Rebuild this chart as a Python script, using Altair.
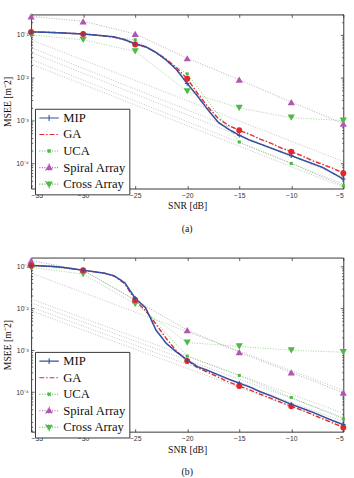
import altair as alt
import pandas as pd

NAMES = ["MIP", "GA", "UCA", "Spiral Array", "Cross Array"]
SNR_FINE = [-35, -34, -33, -32, -31, -30, -29, -28, -27, -26, -25, -24, -23, -22, -21,
            -20, -19, -18, -17, -16, -15, -14, -13, -12, -11, -10, -9, -8, -7, -6, -5]
SNR_5 = [-35, -30, -25, -20, -15, -10, -5]
SNR_CRB = [-35, -5]
Y_MAJOR = [1e-4, 1e-3, 1e-2, 1e-1]
Y_MINOR = [1.2e-5, 1.5e-5, 2e-5, 3e-5, 4e-5, 5e-5, 6e-5, 7e-5, 8e-5, 9e-5,
           2e-4, 3e-4, 4e-4, 5e-4, 6e-4, 7e-4, 8e-4, 9e-4,
           2e-3, 3e-3, 4e-3, 5e-3, 6e-3, 7e-3, 8e-3, 9e-3,
           2e-2, 3e-2, 4e-2, 5e-2, 6e-2, 7e-2, 8e-2, 9e-2, 0.2, 0.3]

# ---- panel (a) ----
A_MIP = [0.117, 0.116, 0.114, 0.111, 0.108, 0.105, 0.100, 0.0949, 0.0901, 0.0770,
         0.0624, 0.0533, 0.0390, 0.0257, 0.0152, 0.00731, 0.00370, 0.00178, 0.000901,
         0.000624, 0.000456, 0.000351, 0.000285, 0.000231, 0.000187, 0.000152,
         0.000123, 0.000100, 0.0000811, 0.0000593, 0.0000433]
A_GA = [0.117, 0.116, 0.114, 0.111, 0.108, 0.105, 0.100, 0.0949, 0.0877, 0.0770,
        0.0593, 0.0520, 0.0390, 0.0270, 0.0169, 0.00949, 0.00433, 0.00208, 0.00111,
        0.000769, 0.000593, 0.000481, 0.000370, 0.000300, 0.000231, 0.000187,
        0.000152, 0.000117, 0.0000949, 0.0000770, 0.0000593]
A_UCA = [0.117, 0.105, 0.0770, 0.0123, 0.000316, 0.000100, 0.0000300]
A_SPIRAL = [0.270, 0.208, 0.105, 0.0285, 0.00901, 0.00270, 0.000855]
A_CROSS = [0.100, 0.0770, 0.0411, 0.00481, 0.00197, 0.00117, 0.00100]
A_CRB_START = [0.077, 0.0507, 0.0389, 0.0269, 0.0209]
A_CRB_END = [0.000111, 0.000063, 0.000048, 0.000033, 0.000028]
A_YDOMAIN = [2.6e-5, 0.3]

# ---- panel (b) ----
B_MIP = [0.105, 0.1026, 0.100, 0.0948, 0.0877, 0.0809, 0.0748, 0.0691, 0.0589, 0.0407,
         0.0174, 0.0103, 0.00304, 0.00145, 0.000899, 0.000589, 0.000406, 0.000329,
         0.000259, 0.000204, 0.000165, 0.000134, 0.000103, 0.0000831, 0.0000655,
         0.0000516, 0.0000418, 0.0000338, 0.0000266, 0.0000210, 0.0000170]
B_GA = [0.105, 0.1026, 0.100, 0.0948, 0.0877, 0.0809, 0.0748, 0.0691, 0.0589, 0.0386,
        0.0157, 0.00877, 0.00418, 0.00189, 0.000948, 0.000558, 0.000385, 0.000296,
        0.000227, 0.000174, 0.000141, 0.000114, 0.0000900, 0.0000728, 0.0000574,
        0.0000465, 0.0000376, 0.0000296, 0.0000233, 0.0000184, 0.0000145]
B_UCA = [0.105, 0.0809, 0.0157, 0.000728, 0.000252, 0.0000748, 0.0000233]
B_SPIRAL = [0.137, 0.0809, 0.0157, 0.00304, 0.000899, 0.000296, 0.0000975]
B_CROSS = [0.0948, 0.0655, 0.0127, 0.00153, 0.00124, 0.00100, 0.000899]
B_CRB_START = [0.0692, 0.0166, 0.0135, 0.0107, 0.0087]
B_CRB_END = [0.000112, 0.0000316, 0.0000251, 0.0000200, 0.0000158]
B_YDOMAIN = [1.15e-5, 0.162]

BLUE = "#34509f"
RED = "#e5262b"
GREEN = "#4fb848"
MAGENTA = "#b255b2"
GRAY = "#b9b9b9"
SPIRAL_LINE = "#a9a0a9"
CROSS_LINE = "#93cf8c"
UCA_LINE = "#7cc474"

SERIF = "Liberation Serif"
SANS = "Liberation Sans"

LEG_COLORS = [BLUE, RED, GREEN, MAGENTA, GREEN]
LEG_PATHS = [
    "M-1,0H3M1,-0.6V0.6",
    "M-1,0H3",
    "M-1,0H3M0.7,-0.3H1.3V0.3H0.7Z",
    "M-1,0H3M1,-0.72L1.7,0.48H0.3Z",
    "M-1,0H3M1,0.72L1.7,-0.48H0.3Z",
]
LEG_DASH = [[1, 0], [5, 2, 1.5, 2], [1, 1.6], [1, 1.6], [1, 1.6]]


def ax_common(**kw):
    base = dict(grid=False, domain=False, tickColor="#333", tickWidth=0.8,
                labelFont=SANS, labelFontSize=7, labelColor="#333",
                titleFont=SERIF, titleFontSize=10, titleFontWeight="normal",
                titleColor="#111")
    base.update(kw)
    return alt.Axis(**base)


def panel(mip, ga, uca, spiral, cross, crb_s, crb_e, ydom, label, legend_y):
    fine = pd.DataFrame({"snr": SNR_FINE * 2, "v": mip + ga,
                         "s": ["MIP"] * len(mip) + ["GA"] * len(ga)})
    coarse = pd.DataFrame({
        "snr": SNR_5 * 5,
        "v": mip[::5] + ga[::5] + uca + spiral + cross,
        "s": sum([[n] * 7 for n in NAMES], []),
    })
    crb_rows = []
    for i, (s0, s1) in enumerate(zip(crb_s, crb_e)):
        crb_rows.append({"snr": SNR_CRB[0], "v": s0, "k": i})
        crb_rows.append({"snr": SNR_CRB[1], "v": s1, "k": i})
    crb = pd.DataFrame(crb_rows)

    xs = alt.Scale(domain=[-35, -5], nice=False, zero=False)
    ys = alt.Scale(type="log", domain=ydom, nice=False)

    def X(axis):
        return alt.X("snr:Q", scale=xs, axis=axis)

    def Y(axis):
        return alt.Y("v:Q", scale=ys, axis=axis)

    x_bottom = ax_common(orient="bottom", values=SNR_5, offset=-3, tickSize=3,
                         labelPadding=3, title="SNR [dB]", titlePadding=3)
    x_top = ax_common(orient="top", values=SNR_5, offset=-3, tickSize=3,
                      labels=False, title=None)
    y_left = ax_common(orient="left", values=Y_MAJOR, offset=-3, tickSize=3,
                       labelPadding=3,
                       labelExpr="'10' + ['\u2070','\u207b\u00b9','\u207b\u00b2','\u207b\u00b3','\u207b\u2074','\u207b\u2075'][round(-log(datum.value)/LN10)]",
                       title="MSEE [m\u207b2]", titlePadding=3)
    y_left_minor = ax_common(orient="left", values=Y_MINOR, offset=-1.6,
                             tickSize=1.6, labels=False, title=None)
    y_right = ax_common(orient="right", values=Y_MAJOR, offset=-3, tickSize=3,
                        labels=False, title=None)
    y_right_minor = ax_common(orient="right", values=Y_MINOR, offset=-1.6,
                              tickSize=1.6, labels=False, title=None)

    crb_layer = alt.Chart(crb).mark_line(
        color=GRAY, strokeWidth=0.9, strokeDash=[1, 1.6], clip=True
    ).encode(x=X(x_bottom), y=Y(y_left), detail="k:N")

    def line_layer(name, color, width, dash, xa=None, ya=None):
        src = fine if name in ("MIP", "GA") else coarse
        return alt.Chart(src).transform_filter(
            alt.datum.s == name
        ).mark_line(color=color, strokeWidth=width, strokeDash=dash, clip=True).encode(
            x=X(xa), y=Y(ya)
        )

    l_uca = line_layer("UCA", UCA_LINE, 0.9, [1, 1.6], None, y_right_minor)
    l_spiral = line_layer("Spiral Array", SPIRAL_LINE, 0.9, [1, 1.6])
    l_cross = line_layer("Cross Array", CROSS_LINE, 0.9, [1, 1.6])
    l_ga = line_layer("GA", RED, 1.4, [5, 2, 1.5, 2], None, y_left_minor)
    l_mip = line_layer("MIP", BLUE, 1.6, [1, 0], x_top, y_right)

    def pts(name, **mk):
        return alt.Chart(coarse).transform_filter(alt.datum.s == name).mark_point(
            **mk).encode(x=X(None), y=Y(None))

    p_spiral = pts("Spiral Array", shape="triangle-up", filled=True, color=MAGENTA,
                   size=55, opacity=1)
    p_cross = pts("Cross Array", shape="triangle-down", filled=True, color=GREEN,
                  size=55, opacity=1)
    p_ga = pts("GA", shape="circle", filled=True, color=RED, size=38, opacity=1)
    p_uca = pts("UCA", shape="square", filled=True, color=GREEN, size=10, opacity=1)
    p_mip = pts("MIP", shape="M-1,0H1M0,-1V1", filled=False, color=BLUE,
                size=22, strokeWidth=1.1, opacity=1)

    leg = alt.Legend(title=None, orient="none", legendX=4, legendY=legend_y,
                     symbolSize=100, symbolStrokeWidth=1.1, labelFont=SERIF,
                     labelFontSize=13, labelColor="#111", labelOffset=13,
                     rowPadding=3, padding=3, strokeColor="#333", fillColor="white",
                     symbolOpacity=1, labelLimit=200)
    legend_df = pd.DataFrame({"series": NAMES})
    legend_layer = alt.Chart(legend_df).transform_filter("false").mark_point(
        filled=True, opacity=1
    ).encode(
        color=alt.Color("series:N", scale=alt.Scale(domain=NAMES, range=LEG_COLORS), legend=leg),
        stroke=alt.Stroke("series:N", scale=alt.Scale(domain=NAMES, range=LEG_COLORS), legend=leg),
        shape=alt.Shape("series:N", scale=alt.Scale(domain=NAMES, range=LEG_PATHS), legend=leg),
        strokeDash=alt.StrokeDash("series:N", scale=alt.Scale(domain=NAMES, range=LEG_DASH), legend=leg),
    )

    return alt.layer(
        crb_layer, l_uca, l_spiral, l_cross, l_ga, l_mip,
        p_spiral, p_cross, p_uca, p_ga, p_mip, legend_layer
    ).resolve_axis(x="independent", y="independent").properties(
        width=321, height=179,
        title=alt.TitleParams(text=label, orient="bottom", font=SERIF, fontSize=10,
                              fontWeight="normal", offset=14, anchor="middle",
                              frame="group", color="#111"),
    )


pa = panel(A_MIP, A_GA, A_UCA, A_SPIRAL, A_CROSS, A_CRB_START, A_CRB_END, A_YDOMAIN, "(a)", 97)
pb = panel(B_MIP, B_GA, B_UCA, B_SPIRAL, B_CROSS, B_CRB_START, B_CRB_END, B_YDOMAIN, "(b)", 97)

chart = alt.vconcat(pa, pb, spacing=22).resolve_scale(
    color="independent", stroke="independent", shape="independent", strokeDash="independent"
).resolve_legend(
    color="independent", stroke="independent", shape="independent", strokeDash="independent"
).configure(
    padding={"left": 2, "top": 6, "right": 5, "bottom": 0},
    background="white",
).configure_view(stroke="#333", strokeWidth=1)

chart.save("out.html", embed_options={"renderer": "svg", "actions": False})
